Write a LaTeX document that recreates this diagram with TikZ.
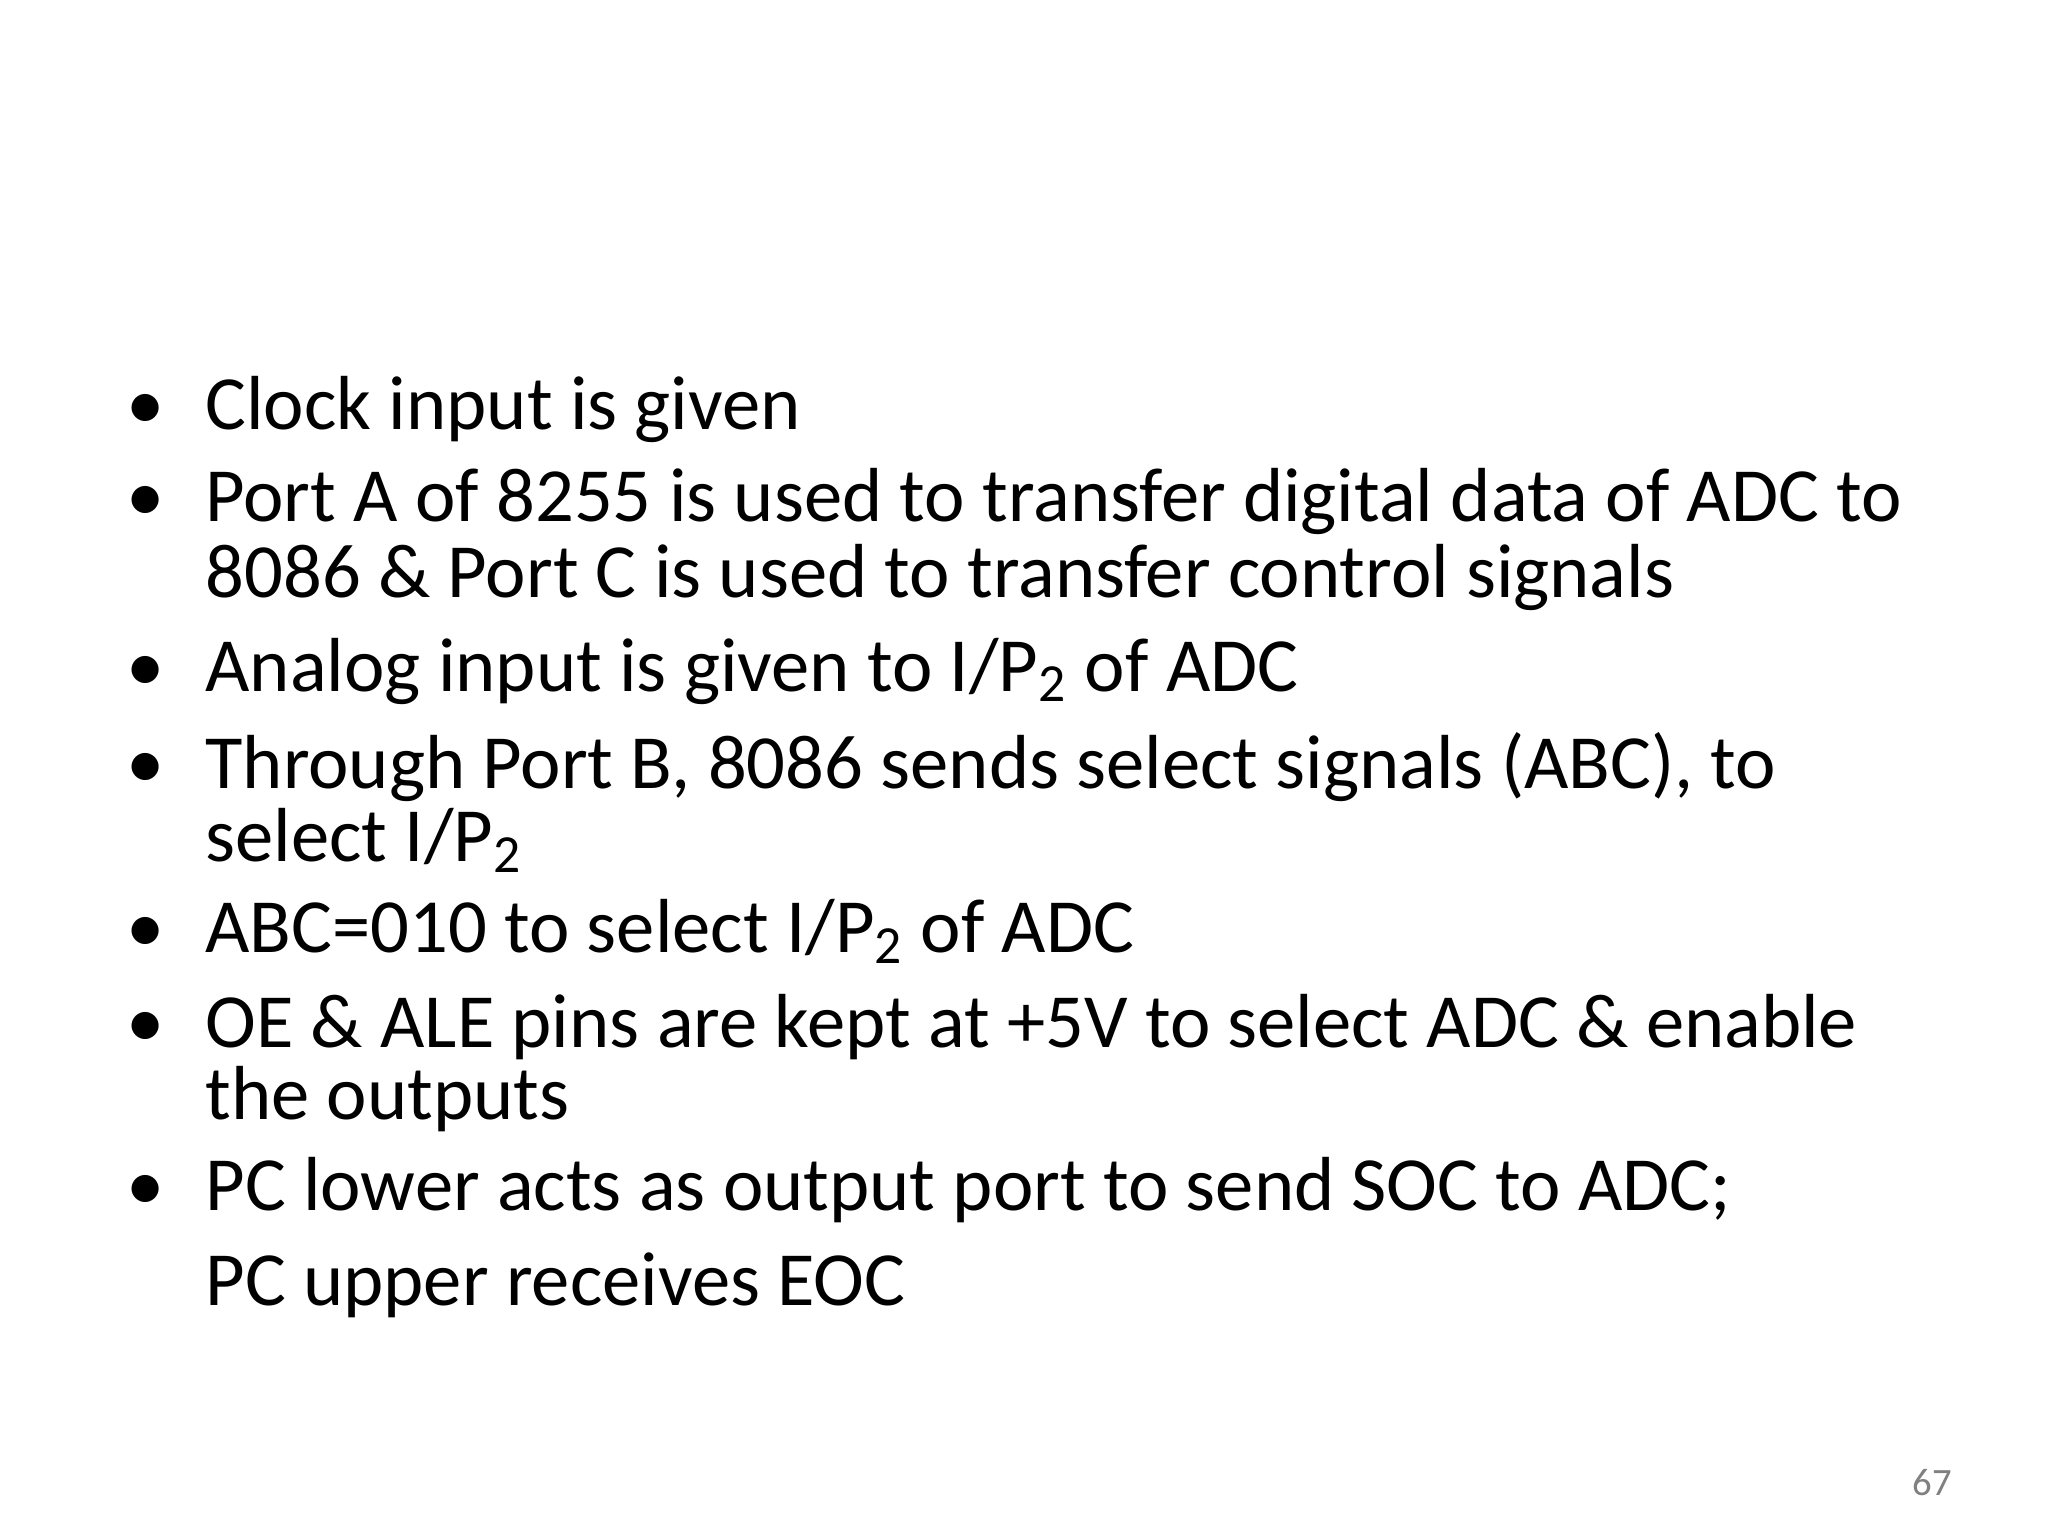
\documentclass[tikz,border=0pt]{standalone}
\usepackage{fontspec}
\setmainfont{Carlito}
\begin{document}
\begin{tikzpicture}[x=1cm,y=1cm,
  txt/.style={anchor=base west,inner sep=0pt,font=\fontsize{21.8}{26}\selectfont},
  bul/.style={anchor=base west,inner sep=0pt,font=\fontsize{21.8}{26}\selectfont}]
\useasboundingbox (0,0) rectangle (20.48,-15.36);
\newcommand{\bx}{1.26}
\newcommand{\tx}{2.048}
\foreach \n/\y in {1/4.294,2/5.219,3/6.910,4/7.888,5/9.526,6/10.478,7/12.103}
  \node[bul] (b\n) at (\bx,-\y) {\textbullet};
\node[txt] (l1) at (\tx,-4.294) {Clock input is given};
\node[txt] (l2) at (\tx,-5.219) {Port A of 8255 is used to transfer digital data of ADC to};
\node[txt] (l3) at (\tx,-5.972) {8086 \& Port C is used to transfer control signals};
\node[txt] (l4) at (\tx,-6.910) {Analog input is given to I/P\textsubscript{2} of ADC};
\node[txt] (l5) at (\tx,-7.888) {Through Port B, 8086 sends select signals (ABC), to};
\node[txt] (l6) at (\tx,-8.615) {select I/P\textsubscript{2}};
\node[txt] (l7) at (\tx,-9.526) {ABC=010 to select I/P\textsubscript{2} of ADC};
\node[txt] (l8) at (\tx,-10.478) {OE \& ALE pins are kept at +5V to select ADC \& enable};
\node[txt] (l9) at (\tx,-11.191) {the outputs};
\node[txt] (l10) at (\tx,-12.103) {PC lower acts as output port to send SOC to ADC;};
\node[txt] (l11) at (\tx,-13.054) {PC upper receives EOC};
\node[anchor=base,inner sep=0pt,font=\fontsize{11}{13}\selectfont,text=gray] (pg) at (19.32,-14.957) {67};
\end{tikzpicture}
\end{document}
